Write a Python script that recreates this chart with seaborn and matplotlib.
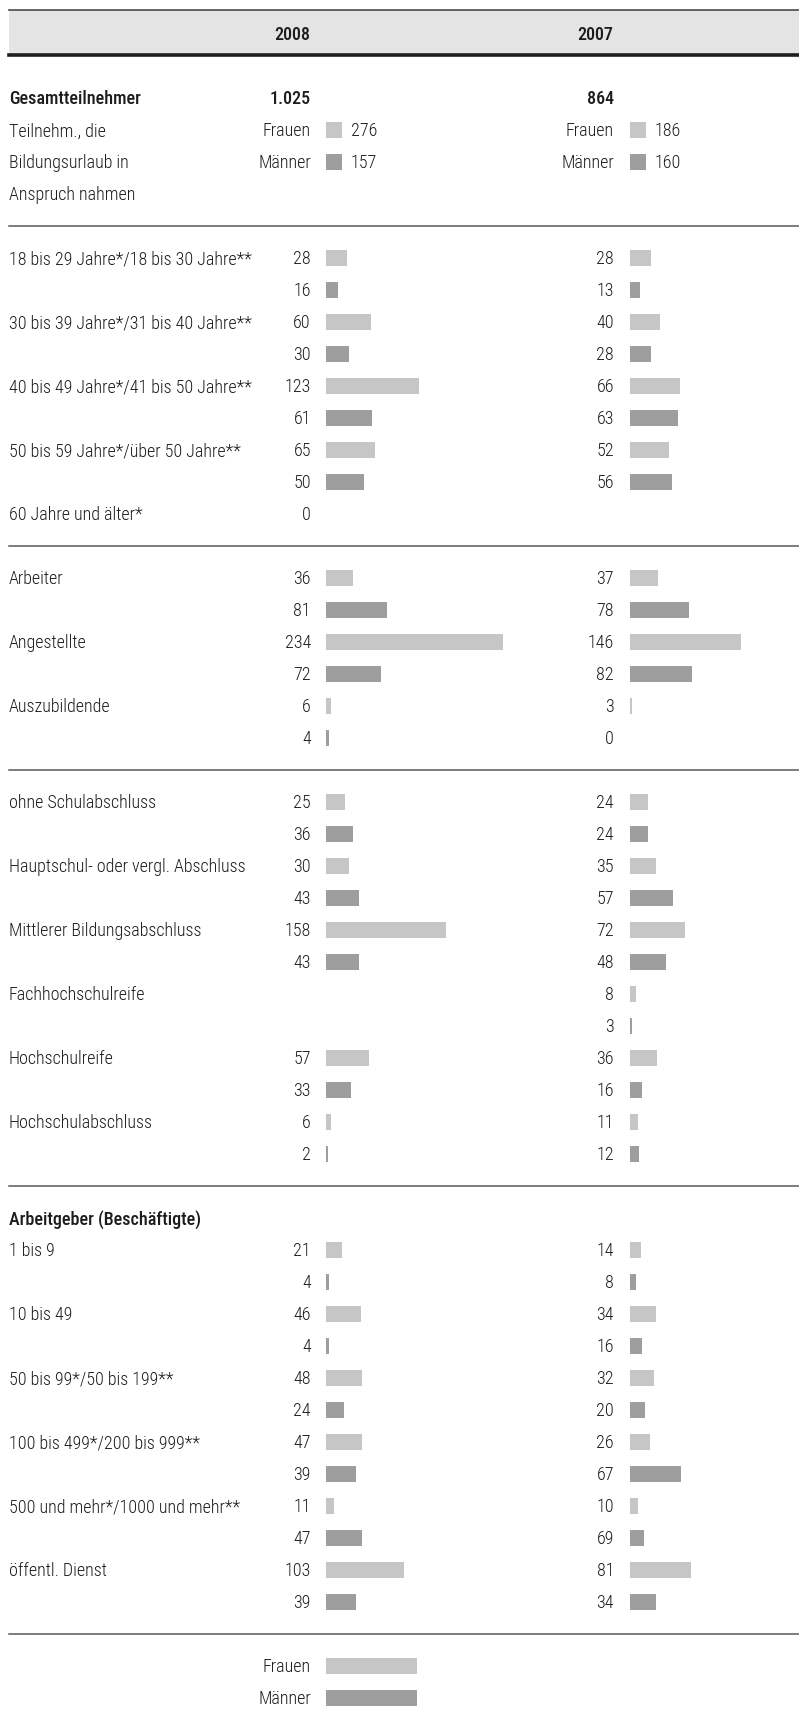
import pandas as pd
import seaborn as sns
import matplotlib.pyplot as plt
from matplotlib import font_manager as fm
from matplotlib.patches import Rectangle

# --- data ---------------------------------------------------------------
years = ['2008', '2007']
total = ['1.025', '864']
hdr_frauen = [276, 186]
hdr_maenner = [157, 160]

age_cats = ['18 bis 29 Jahre*/18 bis 30 Jahre**', '30 bis 39 Jahre*/31 bis 40 Jahre**',
            '40 bis 49 Jahre*/41 bis 50 Jahre**', '50 bis 59 Jahre*/über 50 Jahre**',
            '60 Jahre und älter*']
age_f08 = [28, 60, 123, 65, 0]
age_m08 = [16, 30, 61, 50, None]
age_f07 = [28, 40, 66, 52, None]
age_m07 = [13, 28, 63, 56, None]

job_cats = ['Arbeiter', 'Angestellte', 'Auszubildende']
job_f08 = [36, 234, 6]
job_m08 = [81, 72, 4]
job_f07 = [37, 146, 3]
job_m07 = [78, 82, 0]

edu_cats = ['ohne Schulabschluss', 'Hauptschul- oder vergl. Abschluss', 'Mittlerer Bildungsabschluss',
            'Fachhochschulreife', 'Hochschulreife', 'Hochschulabschluss']
edu_f08 = [25, 30, 158, None, 57, 6]
edu_m08 = [36, 43, 43, None, 33, 2]
edu_f07 = [24, 35, 72, 8, 36, 11]
edu_m07 = [24, 57, 48, 3, 16, 12]

emp_cats = ['1 bis 9', '10 bis 49', '50 bis 99*/50 bis 199**', '100 bis 499*/200 bis 999**',
            '500 und mehr*/1000 und mehr**', 'öffentl. Dienst']
emp_f08 = [21, 46, 48, 47, 11, 103]
emp_m08 = [4, 4, 24, 39, 47, 39]
emp_f07 = [14, 34, 32, 26, 10, 81]
emp_m07 = [8, 16, 20, 67, 69, 34]
emp_m07_bar = [8, 16, 20, 67, 19, 34]  # bar as drawn in the source (label 69)

# --- layout (pixels) ----------------------------------------------------
W, H = 799, 1723
X_LABEL = 9
X_NUM = [311, 614]
X_BAR = [326, 630]
Y0, PITCH = 98, 32
PX_PER_UNIT = 0.757
LIGHT, DARK = '#c6c6c6', '#9e9e9e'
TXT = '#1c1c1c'


def pick_font():
    for name in ['Liberation Sans Narrow', 'Roboto Condensed', 'Arial Narrow']:
        try:
            fm.findfont(fm.FontProperties(family=name), fallback_to_default=False)
            return name, 13
        except ValueError:
            pass
    return 'Liberation Sans', 11.5


FONT, FS = pick_font()
plt.rcParams['font.family'] = [FONT, 'DejaVu Sans']


def slot_y(k):
    return Y0 + PITCH * k


# build slot structure
rows = []   # (slot, label, f08, m08, f07, m07, m07bar)
slot = 5
blocks = [(age_cats, age_f08, age_m08, age_f07, age_m07, age_m07),
          (job_cats, job_f08, job_m08, job_f07, job_m07, job_m07),
          (edu_cats, edu_f08, edu_m08, edu_f07, edu_m07, edu_m07),
          (emp_cats, emp_f08, emp_m08, emp_f07, emp_m07, emp_m07_bar)]
line_slots = [4]
header_slots = []
for bi, (cats, f8, m8, f7, m7, m7b) in enumerate(blocks):
    if bi == 3:
        header_slots.append(slot)
        slot += 1
    for i, c in enumerate(cats):
        rows.append((slot, c, f8[i], m8[i], f7[i], m7[i], m7b[i]))
        has_m = m8[i] is not None or m7[i] is not None
        slot += 2 if has_m else 1
    line_slots.append(slot)
    slot += 1
legend_slot = slot

records = {0: [], 1: []}
for s, c, f8, m8, f7, m7, m7b in rows:
    for col, f, m, mb in [(0, f8, m8, m8), (1, f7, m7, m7b)]:
        if f is not None:
            records[col].append({'slot': s, 'value': f, 'label': f, 'sex': 'Frauen'})
        if m is not None:
            records[col].append({'slot': s + 1, 'value': mb, 'label': m, 'sex': 'Männer'})

# --- figure -------------------------------------------------------------
fig = plt.figure(figsize=(W / 100, H / 100), dpi=100)
ax = fig.add_axes([0, 0, 1, 1])
ax.set_xlim(0, W)
ax.set_ylim(H, 0)
ax.axis('off')


def txt(x, y, s, ha='left', bold=False, size=FS):
    ax.text(x, y + 0.36 * size * 100 / 72, s, ha=ha, va='baseline', fontsize=size,
            color=TXT, fontweight='medium' if bold else 'light')


# header band
ax.add_patch(Rectangle((X_LABEL, 10), W - X_LABEL, 45, color='#e4e4e4', lw=0))
ax.plot([X_LABEL, W], [10, 10], color='#4a4a4a', lw=1.2)
ax.plot([X_LABEL, W], [55, 55], color='#1e1e1e', lw=2.6)
for i, yr in enumerate(years):
    txt(X_NUM[i] - 19, 33, yr, ha='center', bold=True)

# totals block
txt(X_LABEL, slot_y(0), 'Gesamtteilnehmer', bold=True)
for i in range(2):
    txt(X_NUM[i], slot_y(0), total[i], ha='right', bold=True)
for k, s in enumerate(['Teilnehm., die', 'Bildungsurlaub in', 'Anspruch nahmen']):
    txt(X_LABEL, slot_y(1 + k), s)
for i in range(2):
    for k, (name, val, colr) in enumerate([('Frauen', hdr_frauen[i], LIGHT),
                                            ('Männer', hdr_maenner[i], DARK)]):
        y = slot_y(1 + k)
        txt(X_NUM[i], y, name, ha='right')
        ax.add_patch(Rectangle((X_BAR[i], y - 8), 16, 16, color=colr, lw=0))
        txt(X_BAR[i] + 25, y, str(val))

# separators
for s in line_slots:
    ax.plot([X_LABEL, W], [slot_y(s), slot_y(s)], color='#5a5a5a', lw=1.1)

for s in header_slots:
    txt(X_LABEL, slot_y(s), 'Arbeitgeber (Beschäftigte)', bold=True)

# category labels and numbers
for s, c, *_ in rows:
    txt(X_LABEL, slot_y(s), c)
for i in range(2):
    for r in records[i]:
        txt(X_NUM[i], slot_y(r['slot']), str(r['label']), ha='right')

# bars, one axes per year
for i in range(2):
    bax = fig.add_axes([X_BAR[i] / W, 0, (W - X_BAR[i]) / W, 1])
    df = pd.DataFrame(records[i])
    sns.barplot(data=df, x='value', y='slot', hue='sex', orient='h', native_scale=True,
                dodge=False, width=0.5, palette={'Frauen': LIGHT, 'Männer': DARK},
                errorbar=None, legend=False, linewidth=0, ax=bax)
    bax.set_xlim(0, (W - X_BAR[i]) / PX_PER_UNIT)
    bax.set_ylim((H - Y0) / PITCH, -Y0 / PITCH)
    bax.axis('off')

# legend at the bottom
for k, (name, colr) in enumerate([('Frauen', LIGHT), ('Männer', DARK)]):
    y = slot_y(legend_slot + k)
    txt(X_NUM[0], y, name, ha='right')
    ax.add_patch(Rectangle((X_BAR[0], y - 8), 91, 16, color=colr, lw=0))

fig.savefig('out.png', dpi=100)
